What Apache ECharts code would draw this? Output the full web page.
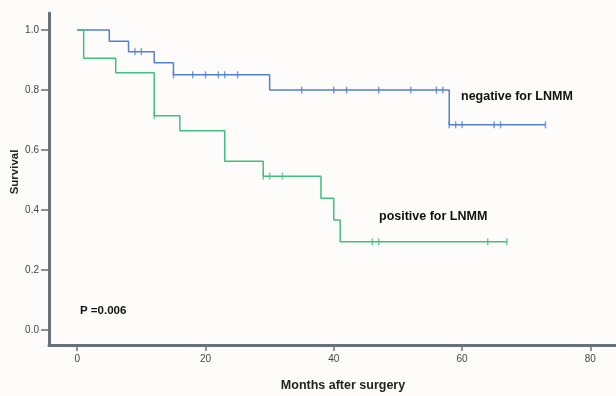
<!DOCTYPE html>
<html><head><meta charset="utf-8">
<script src="https://cdn.jsdelivr.net/npm/echarts@6/dist/echarts.min.js"></script>
<style>html,body{margin:0;padding:0;background:#fefcfb}#c{width:616px;height:396px}</style>
</head><body><div id="c"></div>
<script>
// Kaplan-Meier data
var negTimes = [0, 5, 8, 12, 15, 30, 58];
var negSurv  = [1.0, 0.963, 0.928, 0.891, 0.851, 0.800, 0.684];
var negEnd = 73;
var negCensor = [9, 10, 15, 18, 20, 22, 23, 25, 35, 40, 42, 47, 52, 56, 57, 58, 59, 60, 65, 66, 73];

var posTimes = [0, 1, 6, 12, 16, 23, 29, 38, 40, 41];
var posSurv  = [1.0, 0.906, 0.858, 0.714, 0.664, 0.563, 0.513, 0.439, 0.367, 0.294];
var posEnd = 67;
var posCensor = [12, 29, 30, 32, 46, 47, 64, 67];

var xTicks = [0, 20, 40, 60, 80];
var yTicks = [0, 0.2, 0.4, 0.6, 0.8, 1.0];

function stepData(t, s, end) {
  var d = t.map(function (v, i) { return [v, s[i]]; });
  d.push([end, s[s.length - 1]]);
  return d;
}
function survAt(t, s, x) {
  var v = s[0];
  for (var i = 0; i < t.length; i++) if (x >= t[i]) v = s[i];
  return v;
}
function censorData(t, s, c) {
  return c.map(function (x) { return [x, survAt(t, s, x)]; });
}

var BLUE = '#4f7fd6', GREEN = '#3fbf80', AXIS = '#67717a';
var chart = echarts.init(document.getElementById('c'));
chart.setOption({
  backgroundColor: '#fefcfb',
  animation: false,
  grid: { left: 49, right: 0, top: 13, bottom: 51 },
  xAxis: {
    type: 'value', min: -4.4, max: 84,
    splitLine: { show: false },
    axisLine: { onZero: false, lineStyle: { color: AXIS, width: 3 } },
    axisTick: { customValues: xTicks, length: 6, lineStyle: { color: AXIS, width: 1.5 } },
    axisLabel: { customValues: xTicks, color: '#444', fontSize: 10, margin: 9, fontFamily: 'Liberation Sans' }
  },
  yAxis: {
    type: 'value', min: -0.05, max: 1.057,
    splitLine: { show: false },
    axisLine: { onZero: false, lineStyle: { color: AXIS, width: 3 } },
    axisTick: { customValues: yTicks, length: 8, lineStyle: { color: AXIS, width: 1.5 } },
    axisLabel: { customValues: yTicks, color: '#444', fontSize: 10, margin: 10, fontFamily: 'Liberation Sans',
      formatter: function (v) { return v.toFixed(1); } }
  },
  series: [
    { type: 'line', step: 'end', data: stepData(negTimes, negSurv, negEnd), showSymbol: false,
      lineStyle: { color: BLUE, width: 1.5 } },
    { type: 'line', step: 'end', data: stepData(posTimes, posSurv, posEnd), showSymbol: false,
      lineStyle: { color: GREEN, width: 1.5 } },
    { type: 'scatter', data: censorData(negTimes, negSurv, negCensor), symbol: 'rect', symbolSize: [1.4, 7],
      itemStyle: { color: BLUE } },
    { type: 'scatter', data: censorData(posTimes, posSurv, posCensor), symbol: 'rect', symbolSize: [1.4, 7],
      itemStyle: { color: GREEN } }
  ],
  graphic: [
    { type: 'text', left: 461, top: 90, style: { text: 'negative for LNMM', font: 'bold 12.5px "Liberation Sans"', fill: '#111' } },
    { type: 'text', left: 379, top: 210, style: { text: 'positive for LNMM', font: 'bold 12.5px "Liberation Sans"', fill: '#111' } },
    { type: 'text', left: 80, top: 305, style: { text: 'P =0.006', font: 'bold 11.5px "Liberation Sans"', fill: '#111' } },
    { type: 'text', x: 343, y: 386, style: { text: 'Months after surgery', font: 'bold 12.5px "Liberation Sans"', fill: '#222', align: 'center', verticalAlign: 'middle' } },
    { type: 'text', x: 15, y: 172, rotation: Math.PI / 2, style: { text: 'Survival', font: 'bold 11.5px "Liberation Sans"', fill: '#222', align: 'center', verticalAlign: 'middle' } }
  ]
});
</script></body></html>
